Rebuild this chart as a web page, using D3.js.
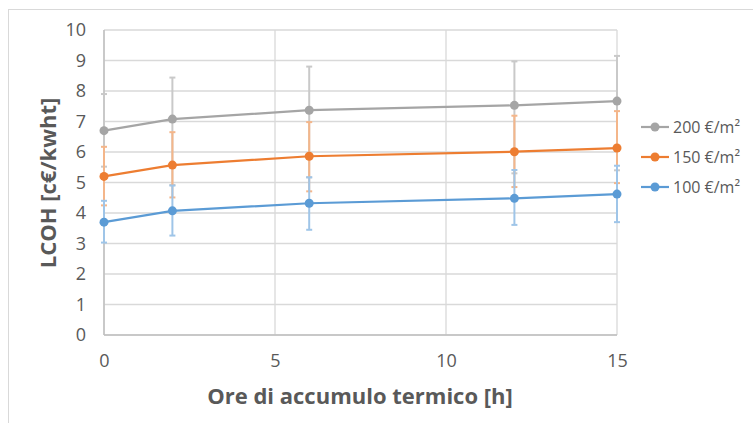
<!DOCTYPE html>
<html>
<head>
<meta charset="utf-8">
<script src="https://cdn.jsdelivr.net/npm/d3@7"></script>
<style>
  body { margin: 0; background: #fff; }
  text { font-family: "Open Sans", sans-serif; fill: #595959; }
</style>
</head>
<body>
<svg width="753" height="423"></svg>
<script>
// dati
var ore = [0, 2, 6, 12, 15];
var serieNomi = ["200 €/m²", "150 €/m²", "100 €/m²"];
var lcoh200 = [6.70, 7.08, 7.37, 7.53, 7.67];
var lcoh150 = [5.20, 5.57, 5.86, 6.01, 6.13];
var lcoh100 = [3.70, 4.07, 4.32, 4.48, 4.62];
// barre di errore (estremi alto / basso)
var alto200 = [7.90, 8.44, 8.80, 8.97, 9.15];
var basso200 = [5.52, 4.92, 5.17, 5.30, 5.40];
var alto150 = [6.17, 6.65, 6.98, 7.19, 7.34];
var basso150 = [4.25, 4.51, 4.71, 4.85, 4.98];
var alto100 = [4.40, 4.90, 5.17, 5.41, 5.55];
var basso100 = [3.03, 3.26, 3.45, 3.61, 3.70];
var xTicks = [0, 5, 10, 15];
var yTicks = [0, 1, 2, 3, 4, 5, 6, 7, 8, 9, 10];

var colori = ["#a5a5a5", "#ed7d31", "#5b9bd5"];
var coloriErr = ["#c9c9c9", "#f4b68a", "#9fc5e8"];

var serie = [
  { nome: serieNomi[0], v: lcoh200, alto: alto200, basso: basso200 },
  { nome: serieNomi[1], v: lcoh150, alto: alto150, basso: basso150 },
  { nome: serieNomi[2], v: lcoh100, alto: alto100, basso: basso100 }
];

var svg = d3.select("svg");

// cornice del grafico
svg.append("rect")
  .attr("x", 8.5).attr("y", 9.5)
  .attr("width", 800).attr("height", 500)
  .attr("fill", "none")
  .attr("stroke", "#d9d9d9");

var x = d3.scaleLinear().domain([0, 15]).range([104, 617]);
var y = d3.scaleLinear().domain([0, 10]).range([335, 30]);

// griglia
var griglia = svg.append("g");
griglia.selectAll("line.h")
  .data(yTicks)
  .enter().append("line")
  .attr("x1", x(0)).attr("x2", x(15))
  .attr("y1", function(d) { return y(d); })
  .attr("y2", function(d) { return y(d); })
  .attr("stroke", "#d9d9d9").attr("stroke-width", 1.3);
griglia.selectAll("line.v")
  .data(xTicks)
  .enter().append("line")
  .attr("x1", function(d) { return x(d); })
  .attr("x2", function(d) { return x(d); })
  .attr("y1", y(0)).attr("y2", y(10))
  .attr("stroke", "#d9d9d9").attr("stroke-width", 1.3);

// assi
svg.append("line")
  .attr("x1", x(0)).attr("x2", x(0)).attr("y1", y(0)).attr("y2", y(10))
  .attr("stroke", "#bfbfbf").attr("stroke-width", 1.5);
svg.append("line")
  .attr("x1", x(0)).attr("x2", x(15)).attr("y1", y(0)).attr("y2", y(0))
  .attr("stroke", "#bfbfbf").attr("stroke-width", 1.5);

var assY = d3.axisLeft(y).tickValues(yTicks).tickSize(0).tickPadding(18);
var gy = svg.append("g").attr("transform", "translate(" + x(0) + ",0)").call(assY);
gy.select(".domain").remove();
gy.selectAll("text").style("font-size", "18px").attr("fill", "#595959");

var assX = d3.axisBottom(x).tickValues(xTicks).tickSize(0).tickPadding(19);
var gx = svg.append("g").attr("transform", "translate(0," + y(0) + ")").call(assX);
gx.select(".domain").remove();
gx.selectAll("text").style("font-size", "18px").attr("fill", "#595959");

// titoli
svg.append("text")
  .attr("x", 360).attr("y", 404)
  .attr("text-anchor", "middle")
  .style("font-size", "22px").style("font-weight", "bold")
  .text("Ore di accumulo termico [h]");

svg.append("text")
  .attr("transform", "translate(56,183) rotate(-90)")
  .attr("text-anchor", "middle")
  .style("font-size", "22px").style("font-weight", "bold")
  .text("LCOH [c€/kwht]");

// barre di errore
serie.forEach(function(s, i) {
  var g = svg.append("g");
  ore.forEach(function(o, j) {
    var px = x(o);
    g.append("line")
      .attr("x1", px).attr("x2", px)
      .attr("y1", y(s.alto[j])).attr("y2", y(s.basso[j]))
      .attr("stroke", coloriErr[i]).attr("stroke-width", 2);
    [s.alto[j], s.basso[j]].forEach(function(e) {
      g.append("line")
        .attr("x1", px - 3).attr("x2", px + 3)
        .attr("y1", y(e)).attr("y2", y(e))
        .attr("stroke", coloriErr[i]).attr("stroke-width", 2);
    });
  });
});

// linee e marcatori
var linea = d3.line()
  .x(function(d, j) { return x(ore[j]); })
  .y(function(d) { return y(d); });

serie.forEach(function(s, i) {
  svg.append("path")
    .attr("d", linea(s.v))
    .attr("fill", "none")
    .attr("stroke", colori[i])
    .attr("stroke-width", 2.2);
  svg.selectAll("circle.s" + i)
    .data(s.v)
    .enter().append("circle")
    .attr("cx", function(d, j) { return x(ore[j]); })
    .attr("cy", function(d) { return y(d); })
    .attr("r", 4.5)
    .attr("fill", colori[i]);
});

// legenda
var leg = svg.append("g");
serie.forEach(function(s, i) {
  var ly = 127 + i * 30;
  leg.append("line")
    .attr("x1", 641).attr("x2", 669).attr("y1", ly).attr("y2", ly)
    .attr("stroke", colori[i]).attr("stroke-width", 2.2);
  leg.append("circle")
    .attr("cx", 655).attr("cy", ly).attr("r", 4.5)
    .attr("fill", colori[i]);
  leg.append("text")
    .attr("x", 673).attr("y", ly).attr("dy", "0.35em")
    .style("font-size", "16px")
    .text(s.nome);
});
</script>
</body>
</html>
